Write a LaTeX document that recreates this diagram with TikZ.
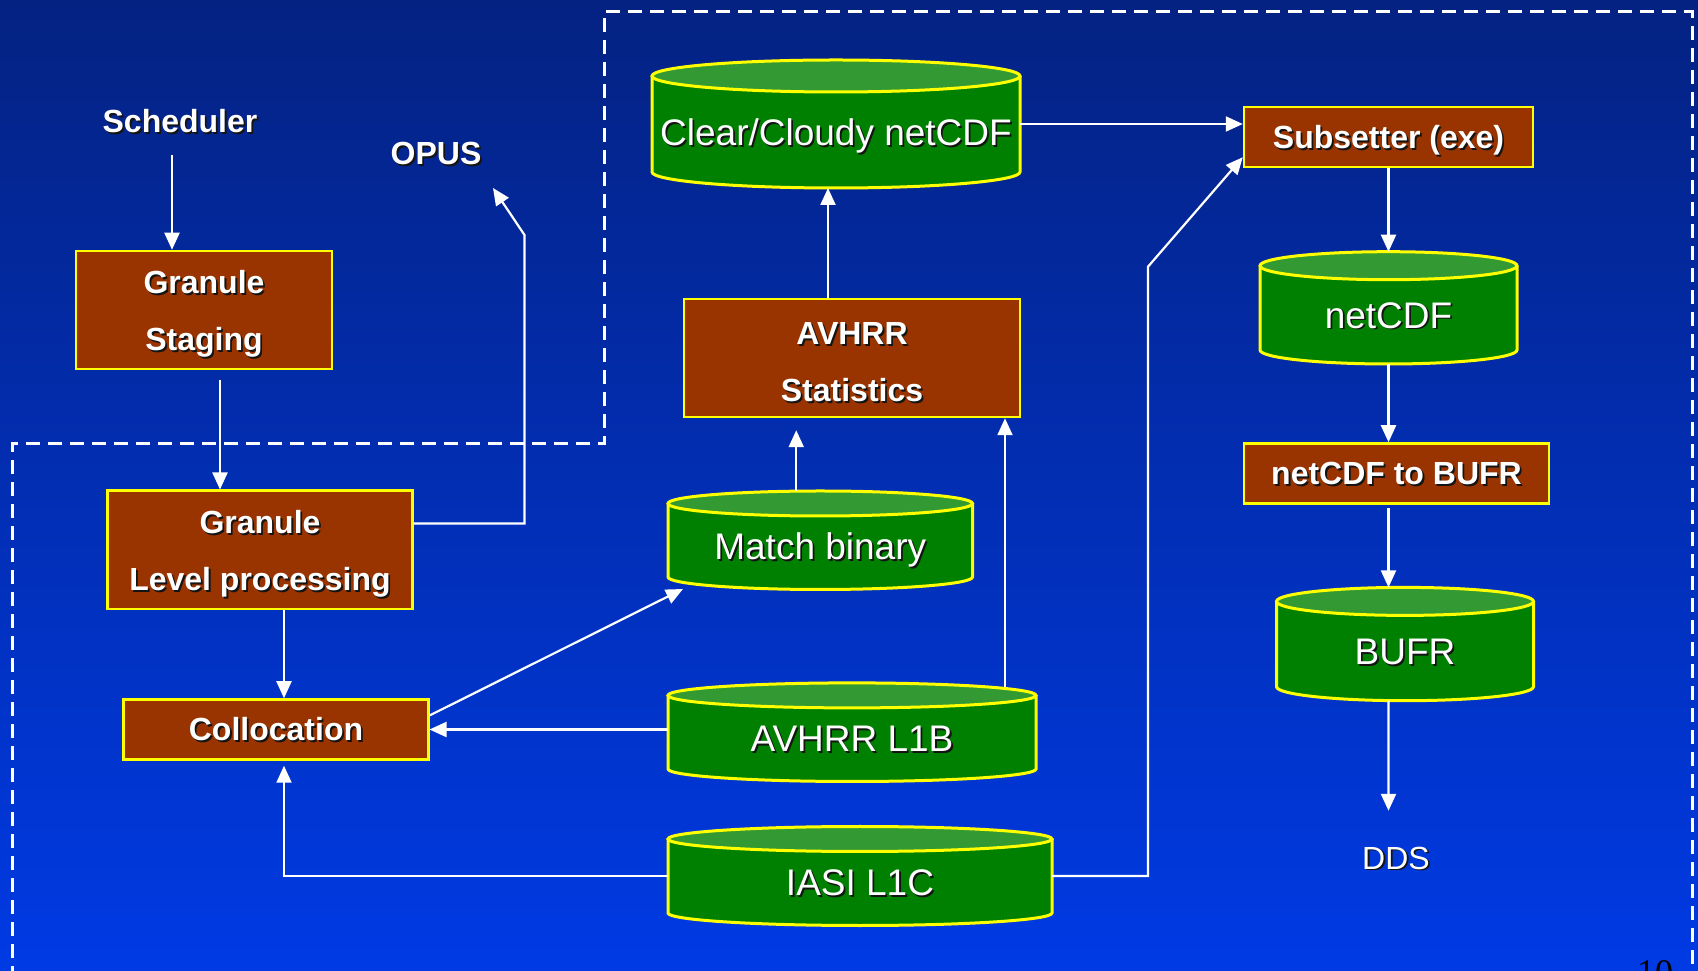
\documentclass[tikz,border=0pt]{standalone}
\usepackage{fontspec}
\setmainfont{Liberation Sans}
\newfontfamily\pagefont{Liberation Serif}
\usetikzlibrary{arrows.meta,calc}

\definecolor{skytop}{RGB}{4,34,130}
\definecolor{skymid}{RGB}{0,50,200}
\definecolor{skybot}{RGB}{0,58,228}
\definecolor{boxfill}{RGB}{153,51,0}
\definecolor{rim}{RGB}{255,255,0}
\definecolor{drumside}{RGB}{0,128,0}
\definecolor{drumlid}{RGB}{51,153,51}
\definecolor{shadowc}{RGB}{20,20,20}

% white text with a small dark drop shadow
\newcommand\shd[1]{\leavevmode\rlap{\hskip1.8bp\raisebox{-1.8bp}{\textcolor{shadowc}{#1}}}#1}
% extra head room on the first line of two-line boxes
\newcommand\headroom{\rule{0pt}{33bp}}

\pgfdeclarelayer{sky}
\pgfdeclarelayer{drums}
\pgfsetlayers{sky,drums,main}

\tikzset{
  procbox/.style={draw=rim, fill=boxfill, line width=2.5bp, text=white,
    font=\bfseries\fontsize{32bp}{57bp}\selectfont, align=center, inner sep=0pt},
  oneline/.style={text height=23bp, text depth=0pt},
  drumbody/.style={rectangle, inner sep=0pt, outer sep=0pt},
  drumtext/.style={text=white, font=\fontsize{37bp}{44bp}\selectfont,
    inner sep=0pt, text depth=0pt, text height=26.5bp},
  rimline/.style={draw=rim, line width=3bp},
  flow/.style={draw=white, line width=2.2bp, -{Triangle[length=17bp,width=15bp]}},
  plain/.style={text=white, inner sep=0pt, text depth=0pt, text height=23bp},
  fence/.style={draw=white, line width=3bp, dash pattern=on 14bp off 8bp},
}

% data store drawn as an upright cylinder: name, centre, width, height, x radius, y radius, label
\newcommand\drum[7]{%
  \node[drumbody, minimum width=#3bp, minimum height=#4bp] (#1) at (#2) {};
  \begin{pgfonlayer}{drums}
    \fill[drumside] (#1.north west) -- (#1.south west)
      arc[start angle=180, end angle=360, x radius=#5, y radius=#6] -- (#1.north east) -- cycle;
    \draw[rimline] (#1.north west) -- (#1.south west)
      arc[start angle=180, end angle=360, x radius=#5, y radius=#6] -- (#1.north east);
    \filldraw[rimline, fill=drumlid] (#1.north) ellipse[x radius=#5, y radius=#6];
  \end{pgfonlayer}
  \node[drumtext] (#1-text) at ([yshift=-#6bp/2]#1.center) {\shd{#7}};
}

\begin{document}
\begin{tikzpicture}[x=1bp,y=1bp]
\useasboundingbox (0,0) rectangle (1698,970);
\begin{pgfonlayer}{sky}
  \shade[top color=skytop, middle color=skymid, bottom color=skybot] (0,0) rectangle (1698,970);
\end{pgfonlayer}

% system boundary
\draw[fence] (12,-10) -- (12,526.5) -- (604,526.5) -- (604,958) -- (1692,958) -- (1692,-10);

% free labels
\node[plain, font=\bfseries\fontsize{32bp}{38bp}\selectfont] (sched) at (180,849) {\shd{Scheduler}};
\node[plain, font=\bfseries\fontsize{32bp}{38bp}\selectfont] (opus) at (436,817) {\shd{OPUS}};
\node[plain, font=\fontsize{32bp}{38bp}\selectfont] (dds) at (1396,112.5) {\shd{DDS}};
\node[anchor=base, inner sep=0pt, text=black, font=\pagefont\fontsize{36bp}{40bp}\selectfont] (pageno) at (1655,-14) {10};

% processing steps
\node[procbox, minimum width=256bp, minimum height=118bp] (staging) at (204,660) {\headroom\shd{Granule}\\\shd{Staging}};
\node[procbox, minimum width=304.5bp, minimum height=118.5bp] (glp) at (260,420) {\headroom\shd{Granule}\\\shd{Level processing}};
\node[procbox, oneline, minimum width=304.5bp, minimum height=60bp] (colloc) at (276,240.5) {\shd{Collocation}};
\node[procbox, minimum width=336bp, minimum height=118bp] (stats) at (852,612) {\headroom\shd{AVHRR}\\\shd{Statistics}};
\node[procbox, oneline, minimum width=289bp, minimum height=60bp] (subset) at (1388.5,833) {\shd{Subsetter (exe)}};
\node[procbox, oneline, minimum width=305bp, minimum height=60bp] (tobufr) at (1396.5,496.5) {\shd{netCDF to BUFR}};

% data stores
\drum{clear}{836,846}{368}{96}{184}{16}{Clear/Cloudy netCDF}
\drum{netcdf}{1388.5,662.15}{257}{84.3}{128.5}{14}{netCDF}
\drum{bufr}{1405,325.95}{257}{85.3}{128.5}{14}{BUFR}
\drum{match}{820.25,429.75}{304.5}{73.5}{152.25}{12.5}{Match binary}
\drum{l1b}{852,237.8}{368}{73.6}{184}{12.5}{AVHRR L1B}
\drum{iasi}{860,94}{384}{74}{192}{12.5}{IASI L1C}

% data flow
\draw[flow, shorten <=22bp] ([xshift=-8bp]sched.south) -- ([xshift=-8bp]sched.south |- staging.north);
\draw[flow, shorten <=10bp] ([xshift=16bp]staging.south) -- ([xshift=16bp]staging.south |- glp.north);
\draw[flow] ([xshift=24bp]glp.south) -- ([xshift=24bp]glp.south |- colloc.north);
\coordinate (opusbend) at (524.5,735);
\coordinate (opusend) at ([xshift=57bp,yshift=-35bp]opus.center);
\draw[flow] ([yshift=26.5bp]glp.east) -| (opusbend) -- (opusend);
\draw[flow] (colloc.east -| l1b.west) -- (colloc.east);
\draw[flow, shorten >=5bp] (iasi.west) -| ([xshift=8bp]colloc.south);
\draw[flow] ([yshift=14bp]colloc.east) -- ([xshift=15bp,yshift=-12bp]match.south west);
\draw[flow, shorten >=12bp] ([xshift=-24bp,yshift=12bp]match.north) -- ([xshift=-24bp]match.north |- stats.south);
\draw[flow] ([xshift=153bp,yshift=8bp]l1b.north) -- ([xshift=153bp]l1b.north |- stats.south);
\coordinate (clearfoot) at ([yshift=-16bp]clear.south);
\draw[flow] ([xshift=-24bp]stats.north) -- ([xshift=-24bp]stats.north |- clearfoot);
\draw[flow] (clear.east) -- (clear.east -| subset.west);
\coordinate (iasibend) at (1148,703.3);
\draw[flow] (iasi.east) -| (iasibend) -- ([yshift=11bp]subset.south west);
\draw[flow] (subset.south) -- ([yshift=14bp]netcdf.north);
\draw[flow] ([yshift=-14bp]netcdf.south) -- (netcdf.south |- tobufr.north);
\coordinate (bufrlid) at ([yshift=14bp]bufr.north);
\draw[flow, shorten <=3.5bp] ([xshift=-8bp]tobufr.south) -- ([xshift=-8bp]tobufr.south |- bufrlid);
\draw[flow, shorten >=35bp] ([xshift=-16.5bp,yshift=-14bp]bufr.south) -- ([xshift=-7.5bp]dds.north);
\end{tikzpicture}
\end{document}
